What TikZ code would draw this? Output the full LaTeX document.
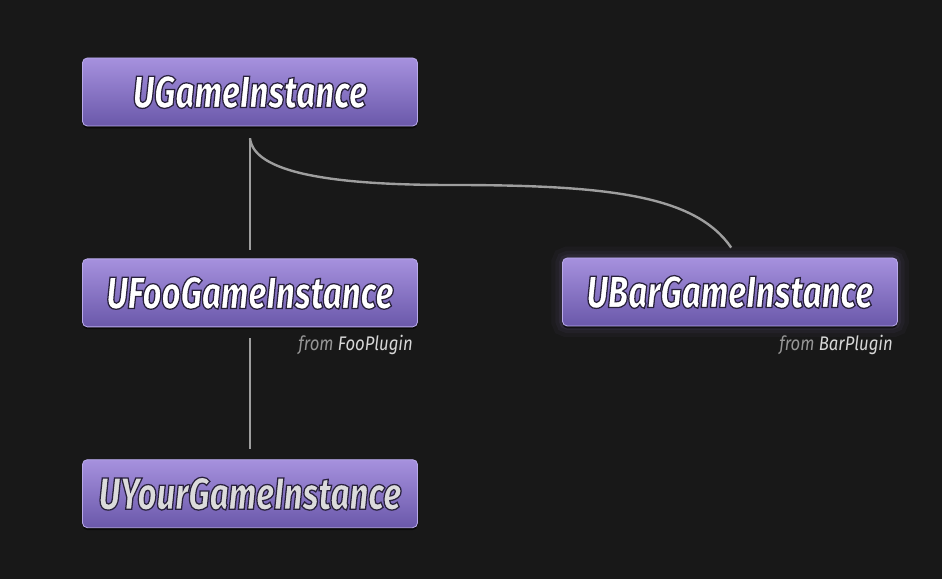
\documentclass[tikz,border=0pt]{standalone}
\usepackage{fontspec}
\newfontfamily\boxfont[FakeStretch=0.74, BoldItalicFont={Fira Sans ExtraBold Italic}]{Fira Sans}
\newfontfamily\plugfont[FakeStretch=0.85]{Fira Sans}
\usetikzlibrary{positioning,shadows}
\definecolor{bgcol}{RGB}{24,24,24}
\definecolor{boxtop}{RGB}{166,145,222}
\definecolor{boxbot}{RGB}{106,88,170}
\definecolor{boxedge}{RGB}{185,170,234}
\definecolor{linegrey}{RGB}{158,158,158}
\definecolor{fromgrey}{RGB}{150,150,150}
\definecolor{plugwhite}{RGB}{215,215,215}
% outlined class name (fill + stroke render mode)
\newcommand{\cname}[1]{\special{pdf:literal direct 2 Tr 0.9 w 0.16 0.13 0.24 RG}#1\special{pdf:literal direct 0 Tr}}

\begin{document}
\begin{tikzpicture}[
  klass/.style={rectangle, rounded corners=0.12cm, minimum width=8.375cm,
    minimum height=1.7cm, inner sep=0pt, draw=boxedge, line width=0.6pt,
    top color=boxtop, bottom color=boxbot, text=white,
    font=\boxfont\fontsize{32}{32}\selectfont\bfseries\itshape,
    drop shadow={shadow xshift=0pt, shadow yshift=-0.06cm, opacity=0.6, fill=black}},
  glow/.style={
    preaction={draw=boxtop, line width=16pt, opacity=0.04},
    preaction={draw=boxtop, line width=10pt, opacity=0.05},
    preaction={draw=boxtop, line width=5pt, opacity=0.07}},
  link/.style={draw=linegrey, line width=1.7pt},
  origin/.style={anchor=north east, inner sep=0pt, text=fromgrey,
    font=\plugfont\fontsize{14}{14}\selectfont\itshape}
]
% background and size
\fill[bgcol] (0,0) rectangle (23.55,14.475);
\useasboundingbox (0,0) rectangle (23.55,14.475);

% class boxes
\node[klass] (gi) at (6.25,12.175) {\cname{UGameInstance}};
\node[klass, below=3.3cm of gi] (foo) {\cname{UFooGameInstance}};
\node[klass, below=3.3cm of foo, text=white!86!black] (your) {\cname{UYourGameInstance}};
\node[glow, klass] (bar) at (18.25,7.175) {\cname{UBarGameInstance}};

% where they come from
\node[origin] (fooplug) at ([xshift=-0.12cm,yshift=-0.2cm]foo.south east)
  {from \textcolor{plugwhite}{FooPlugin}};
\node[origin] (barplug) at ([xshift=-0.12cm,yshift=-0.2cm]bar.south east)
  {from \textcolor{plugwhite}{BarPlugin}};

% inheritance
\coordinate (split) at ([yshift=-0.3cm]gi.south);
\coordinate (bend) at (11.25,9.85);
\draw[link] (split) -- ([yshift=0.2cm]foo.north);
\draw[link] ([yshift=-0.28cm]foo.south) -- ([yshift=0.25cm]your.north);
\draw[link] (split) .. controls +(0.1,-0.85) and +(-3,0) .. (bend)
  .. controls +(4,0) and +(-0.9,1.3) .. ([xshift=0.03cm,yshift=0.25cm]bar.north);
\end{tikzpicture}
\end{document}
